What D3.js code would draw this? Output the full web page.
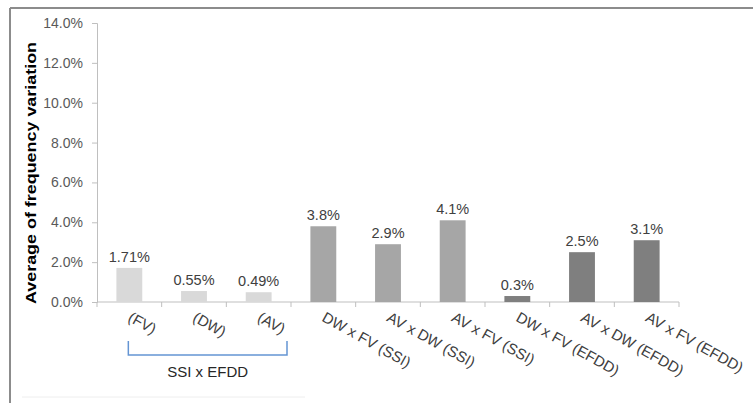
<!DOCTYPE html>
<html>
<head>
<meta charset="utf-8">
<script src="https://cdn.jsdelivr.net/npm/d3@7"></script>
<style>
  html, body { margin: 0; padding: 0; background: #fff; }
  svg { display: block; font-family: "Liberation Sans", Arial, sans-serif; }
</style>
</head>
<body>
<svg id="chart" width="753" height="403"></svg>
<script>
// Categories, values (percent) and group shading
const categories = ["(FV)", "(DW)", "(AV)",
  "DW x FV (SSI)", "AV x DW (SSI)", "AV x FV (SSI)",
  "DW x FV (EFDD)", "AV x DW (EFDD)", "AV x FV (EFDD)"];
const values = [1.71, 0.55, 0.49, 3.8, 2.9, 4.1, 0.3, 2.5, 3.1];
const valueLabels = ["1.71%", "0.55%", "0.49%", "3.8%", "2.9%", "4.1%", "0.3%", "2.5%", "3.1%"];
const groups = ["single", "single", "single", "ssi", "ssi", "ssi", "efdd", "efdd", "efdd"];
const yTicks = [0, 2, 4, 6, 8, 10, 12, 14];
const yTitle = "Average of frequency variation";
const bracketLabel = "SSI x EFDD";

const svg = d3.select("#chart");
const FONT = "'Liberation Sans', Arial, sans-serif";

// outer frame (top and left edges)
svg.append("line").attr("x1", 10).attr("x2", 753).attr("y1", 8).attr("y2", 8)
  .attr("stroke", "#8c8c8c").attr("stroke-width", 2);
svg.append("line").attr("x1", 10).attr("x2", 10).attr("y1", 8).attr("y2", 403)
  .attr("stroke", "#8c8c8c").attr("stroke-width", 2);
svg.append("line").attr("x1", 22).attr("x2", 305).attr("y1", 397).attr("y2", 397)
  .attr("stroke", "#eeeeee").attr("stroke-width", 1);

const x = d3.scaleBand().domain(categories).range([97, 679]).paddingInner(0.6).paddingOuter(0.3);
const y = d3.scaleLinear().domain([0, 14]).range([302, 23]);

const color = d3.scaleOrdinal().domain(["single", "ssi", "efdd"])
  .range(["#d9d9d9", "#a6a6a6", "#7f7f7f"]);

// y axis
const yAxis = svg.append("g").attr("transform", "translate(97,0)")
  .call(d3.axisLeft(y).tickValues(yTicks).tickSize(5).tickPadding(9)
    .tickFormat(d => d.toFixed(1) + "%"));
yAxis.attr("font-size", 14).attr("font-family", FONT);
yAxis.select(".domain").attr("stroke", "#bfbfbf");
yAxis.selectAll(".tick line").attr("stroke", "#bfbfbf");
yAxis.selectAll(".tick text").attr("fill", "#595959");

// x axis with ticks between categories
const xAxisG = svg.append("g").attr("transform", "translate(0,302)");
xAxisG.append("line").attr("x1", 97).attr("x2", 679).attr("y1", 0).attr("y2", 0)
  .attr("stroke", "#bfbfbf");
const boundaries = d3.range(categories.length + 1).map(i => 97 + i * (582 / categories.length));
xAxisG.selectAll(".xt").data(boundaries).join("line")
  .attr("x1", d => d).attr("x2", d => d).attr("y1", 0).attr("y2", 5)
  .attr("stroke", "#bfbfbf");

// bars
svg.selectAll(".bar").data(categories).join("rect")
  .attr("x", d => x(d))
  .attr("y", (d, i) => y(values[i]))
  .attr("width", x.bandwidth())
  .attr("height", (d, i) => y(0) - y(values[i]))
  .attr("fill", (d, i) => color(groups[i]));

// value labels
svg.selectAll(".vl").data(categories).join("text")
  .attr("x", d => x(d) + x.bandwidth() / 2)
  .attr("y", (d, i) => y(values[i]) - 6)
  .attr("text-anchor", "middle")
  .attr("font-size", 14.5).attr("fill", "#404040")
  .text((d, i) => valueLabels[i]);

// rotated category labels
svg.selectAll(".cl").data(categories).join("text")
  .attr("transform", d => `translate(${x(d) + x.bandwidth() / 2 + 3},${311}) rotate(29)`)
  .attr("text-anchor", "start")
  .attr("dy", "0.72em")
  .attr("font-size", 15).attr("fill", "#404040")
  .text(d => d);

// bracket grouping the first three categories
const bx1 = x(categories[0]) + x.bandwidth() / 2 - 1;
const bx2 = boundaries[3] - 4;
svg.append("path")
  .attr("d", `M${bx1},341 L${bx1},355 L${bx2},355 L${bx2},341`)
  .attr("fill", "none").attr("stroke", "#6495d3").attr("stroke-width", 1.5);
svg.append("text").attr("x", (bx1 + bx2) / 2).attr("y", 377)
  .attr("text-anchor", "middle").attr("font-size", 15).attr("fill", "#262626")
  .text(bracketLabel);

// y axis title
svg.append("text")
  .attr("transform", `translate(36,${173}) rotate(-90)`)
  .attr("text-anchor", "middle").attr("font-size", 15).attr("font-weight", "bold")
  .attr("fill", "#000")
  .attr("textLength", 262).attr("lengthAdjust", "spacingAndGlyphs")
  .text(yTitle);
</script>
</body>
</html>
